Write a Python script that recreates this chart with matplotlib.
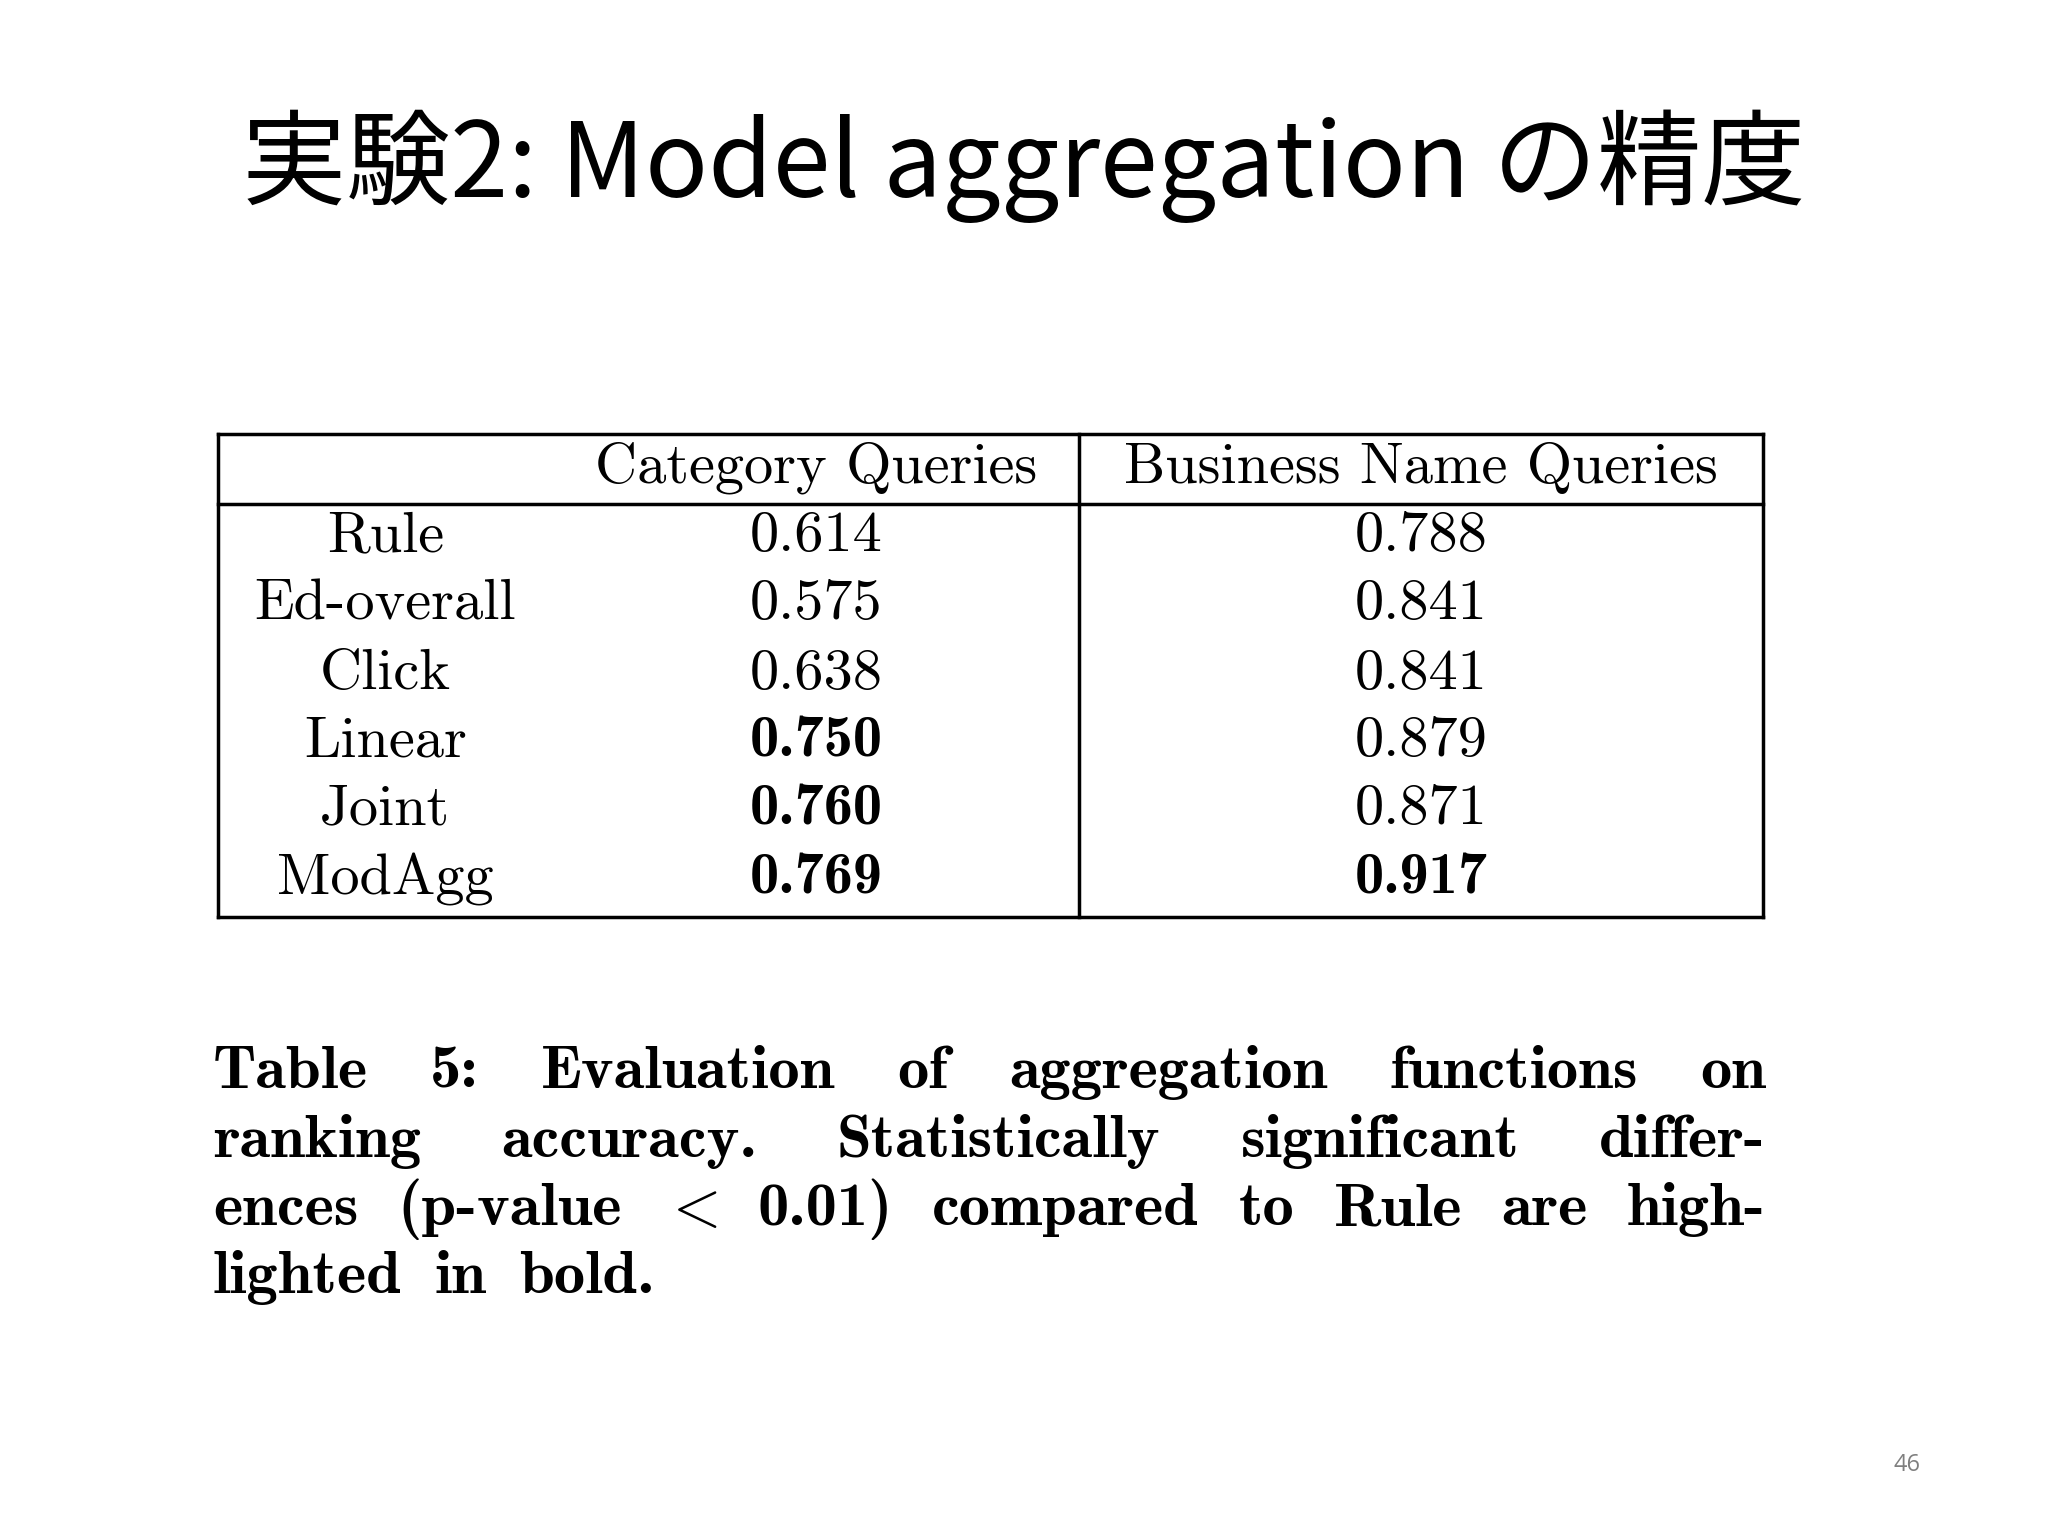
import matplotlib
matplotlib.use("Agg")
import matplotlib.pyplot as plt
from matplotlib.lines import Line2D

plt.rcParams['mathtext.fontset'] = 'cm'

title = "実験2: Model aggregation の精度"
columns = ["Category Queries", "Business Name Queries"]
methods = ["Rule", "Ed-overall", "Click", "Linear", "Joint", "ModAgg"]
category_vals = ["0.614", "0.575", "0.638", "0.750", "0.760", "0.769"]
business_vals = ["0.788", "0.841", "0.841", "0.879", "0.871", "0.917"]
category_bold = [False, False, False, True, True, True]
business_bold = [False, False, False, False, False, True]
caption_lines = [
    ["Table", "5:", "Evaluation", "of", "aggregation", "functions", "on"],
    ["ranking", "accuracy.", "Statistically", "significant", "differ-"],
    ["ences", "(p-value", "$<$", "0.01)", "compared", "to", "Rule", "are", "high-"],
    ["lighted", "in", "bold."],
]
page_number = "46"

W, H = 1568.0, 1176.0
fig = plt.figure(figsize=(20.48, 15.36), dpi=100)
fx = lambda x: x / W
fy = lambda y: 1 - y / H

fig.text(fx(784), fy(127), title, ha='center', va='center', fontsize=75,
         family=['Noto Sans CJK JP', 'DejaVu Sans'])

# table lines
lw = 2.5
L, R, T, HB, B, V = 167, 1350, 332, 386, 702, 826
for (x0, y0, x1, y1) in [(L, T, R, T), (L, HB, R, HB), (L, B, R, B),
                         (L, T, L, B), (R, T, R, B), (V, T, V, B)]:
    fig.add_artist(Line2D([fx(x0), fx(x1)], [fy(y0), fy(y1)], color='black', lw=lw))

ts = 42
fig.text(fx(625), fy(358), columns[0], ha='center', va='center', fontsize=ts, family='cmr10')
fig.text(fx(1088), fy(358), columns[1], ha='center', va='center', fontsize=ts, family='cmr10')
row_y = [411, 463, 516, 568, 620, 673]
for y, m, c, cb, b, bb in zip(row_y, methods, category_vals, category_bold, business_vals, business_bold):
    fig.text(fx(295), fy(y), m, ha='center', va='center', fontsize=ts, family='cmr10')
    fig.text(fx(625), fy(y), c, ha='center', va='center', fontsize=ts, family='cmb10' if cb else 'cmr10')
    fig.text(fx(1088), fy(y), b, ha='center', va='center', fontsize=ts, family='cmb10' if bb else 'cmr10')

# caption, justified
cap_y = [820, 873, 925, 977]
cs = 45
fig.canvas.draw()
r = fig.canvas.get_renderer()
left, right = fx(163), fx(1352)
for i, (words, y) in enumerate(zip(caption_lines, cap_y)):
    arts = [fig.text(0, fy(y), w, ha='left', va='baseline', fontsize=cs, family='cmb10') for w in words]
    widths = [a.get_window_extent(r).width / fig.bbox.width for a in arts]
    if i < len(caption_lines) - 1:
        gap = (right - left - sum(widths)) / (len(words) - 1)
    else:
        gap = 0.016
    x = left
    for a, wdt in zip(arts, widths):
        a.set_x(x)
        a.set_y(fy(y + 13))
        x += wdt + gap

fig.text(fx(1460), fy(1122), page_number, ha='center', va='center', fontsize=17,
         color='#7f7f7f', family='Open Sans')

fig.savefig('out.png', dpi=100, facecolor='white')
